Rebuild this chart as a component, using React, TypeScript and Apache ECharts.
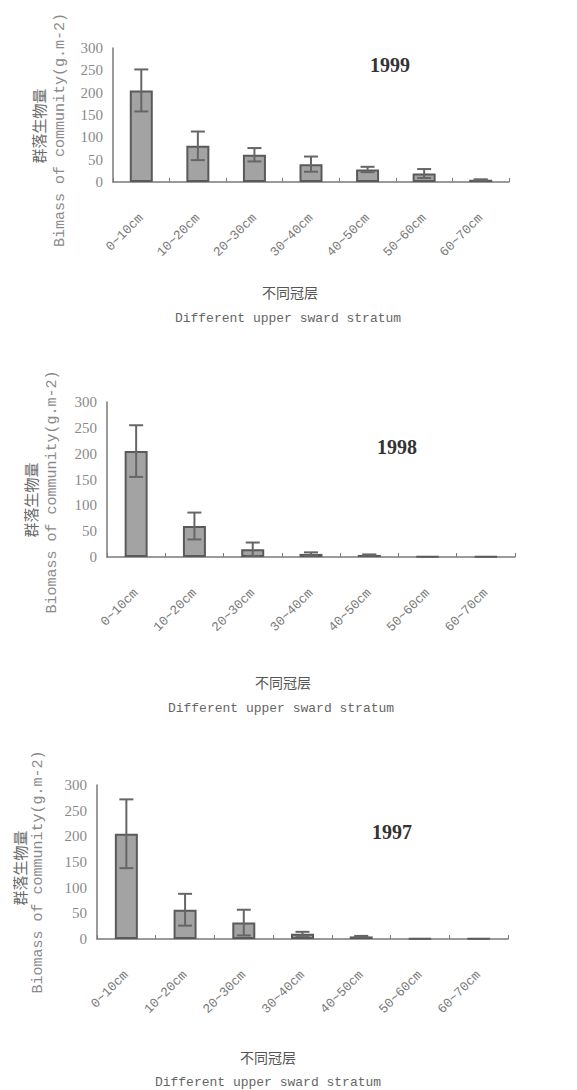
import React, { useEffect, useRef } from "react";
import * as echarts from "echarts";

const categories = ["0~10cm", "10~20cm", "20~30cm", "30~40cm", "40~50cm", "50~60cm", "60~70cm"];
const years = ["1999", "1998", "1997"];
const biomass1999 = [205, 81, 61, 40, 28, 19, 5];
const sd1999 = [47, 32, 15, 17, 6, 10, 1];
const biomass1998 = [205, 60, 15, 6, 4, 1, 1];
const sd1998 = [50, 26, 13, 3, 1, 0, 0];
const biomass1997 = [205, 57, 32, 10, 5, 1, 1];
const sd1997 = [67, 31, 25, 4, 1, 0, 0];
const yTicks = [0, 50, 100, 150, 200, 250, 300];
const yTitleEn = ["Bimass of community(g.m-2)", "Biomass of community(g.m-2)", "Biomass of community(g.m-2)"];
const yTitleZh = "群落生物量";
const xTitleZh = "不同冠层";
const xTitleEn = "Different upper sward stratum";

const means = [biomass1999, biomass1998, biomass1997];
const sds = [sd1999, sd1998, sd1997];

const grids = [
  { left: 113, top: 48, width: 396, height: 134 },
  { left: 107, top: 402, width: 408, height: 155 },
  { left: 97, top: 785, width: 411, height: 154 },
];
const layout = [
  { zh: [38, 126], en: [60, 130], year: [390, 65], xzh: [290, 292], xen: [288, 318] },
  { zh: [30, 500], en: [52, 492], year: [397, 447], xzh: [283, 682], xen: [281, 708] },
  { zh: [19, 868], en: [38, 872], year: [392, 832], xzh: [268, 1057], xen: [268, 1082] },
];

const textGray = "#7a7a7a";
const axisGray = "#7a7a7a";

export default function App() {
  const ref = useRef<HTMLDivElement>(null);
  useEffect(() => {
    if (!ref.current) return;
    const chart = echarts.init(ref.current, null, { renderer: "svg" });
    const xAxis: any[] = [];
    const yAxis: any[] = [];
    const series: any[] = [];
    const graphic: any[] = [];
    grids.forEach((g, i) => {
      xAxis.push({
        type: "category",
        gridIndex: i,
        data: categories,
        boundaryGap: true,
        axisLine: { lineStyle: { color: axisGray, width: 1.5 } },
        axisTick: { show: true, inside: true, length: 4, lineStyle: { color: axisGray } },
        axisLabel: {
          rotate: 45,
          margin: 34,
          color: textGray,
          fontFamily: "Liberation Mono",
          fontSize: 13,
          interval: 0,
        },
      });
      yAxis.push({
        type: "value",
        gridIndex: i,
        min: yTicks[0],
        max: yTicks[yTicks.length - 1],
        interval: 50,
        splitLine: { show: false },
        axisLine: { show: true, lineStyle: { color: axisGray, width: 1.5 } },
        axisTick: { show: false },
        axisLabel: { color: "#8a8a8a", fontSize: 15, fontFamily: "Liberation Serif", margin: 10 },
      });
      series.push({
        type: "bar",
        xAxisIndex: i,
        yAxisIndex: i,
        data: means[i],
        barWidth: 23,
        itemStyle: { color: "#a3a3a3", borderColor: "#5a5a5a", borderWidth: 2 },
      });
      series.push({
        type: "custom",
        xAxisIndex: i,
        yAxisIndex: i,
        data: means[i].map((m, k) => [k, m - sds[i][k], m + sds[i][k]]),
        encode: { x: 0, y: [1, 2] },
        z: 5,
        renderItem: (params: any, api: any) => {
          const k = api.value(0);
          const lo = api.value(1);
          const hi = api.value(2);
          if (hi - lo <= 0) return null;
          const p1 = api.coord([k, hi]);
          const p2 = api.coord([k, lo]);
          const hw = 7;
          const style = { stroke: "#666", lineWidth: 2 };
          return {
            type: "group",
            children: [
              { type: "line", shape: { x1: p1[0], y1: p1[1], x2: p2[0], y2: p2[1] }, style },
              { type: "line", shape: { x1: p1[0] - hw, y1: p1[1], x2: p1[0] + hw, y2: p1[1] }, style },
              { type: "line", shape: { x1: p2[0] - hw, y1: p2[1], x2: p2[0] + hw, y2: p2[1] }, style },
            ],
          };
        },
      });
      const L = layout[i];
      graphic.push({
        type: "text",
        x: L.zh[0],
        y: L.zh[1],
        rotation: Math.PI / 2,
        style: {
          text: yTitleZh,
          fontSize: 15,
          fontFamily: "Noto Sans CJK SC",
          fill: "#6a6a6a",
          textAlign: "center",
          textVerticalAlign: "middle",
        },
      });
      graphic.push({
        type: "text",
        x: L.en[0],
        y: L.en[1],
        rotation: Math.PI / 2,
        style: {
          text: yTitleEn[i],
          fontSize: 15,
          fontFamily: "Liberation Mono",
          fill: "#8a8a8a",
          textAlign: "center",
          textVerticalAlign: "middle",
        },
      });
      graphic.push({
        type: "text",
        x: L.year[0],
        y: L.year[1],
        style: {
          text: years[i],
          fontSize: 20,
          fontWeight: "bold",
          fontFamily: "Liberation Serif",
          fill: "#333",
          textAlign: "center",
          textVerticalAlign: "middle",
        },
      });
      graphic.push({
        type: "text",
        x: L.xzh[0],
        y: L.xzh[1],
        style: {
          text: xTitleZh,
          fontSize: 14,
          fontFamily: "Noto Sans CJK SC",
          fill: "#555",
          textAlign: "center",
          textVerticalAlign: "middle",
        },
      });
      graphic.push({
        type: "text",
        x: L.xen[0],
        y: L.xen[1],
        style: {
          text: xTitleEn,
          fontSize: 13,
          fontFamily: "Liberation Mono",
          fill: "#666",
          textAlign: "center",
          textVerticalAlign: "middle",
        },
      });
    });
    chart.setOption({
      animation: false,
      backgroundColor: "#fff",
      grid: grids.map((g) => ({ ...g, containLabel: false })),
      xAxis,
      yAxis,
      series,
      graphic,
    });
    return () => chart.dispose();
  }, []);
  return (
    <div
      ref={ref}
      style={{ position: "absolute", left: 0, top: 0, width: 577, height: 1090, background: "#fff" }}
    />
  );
}
